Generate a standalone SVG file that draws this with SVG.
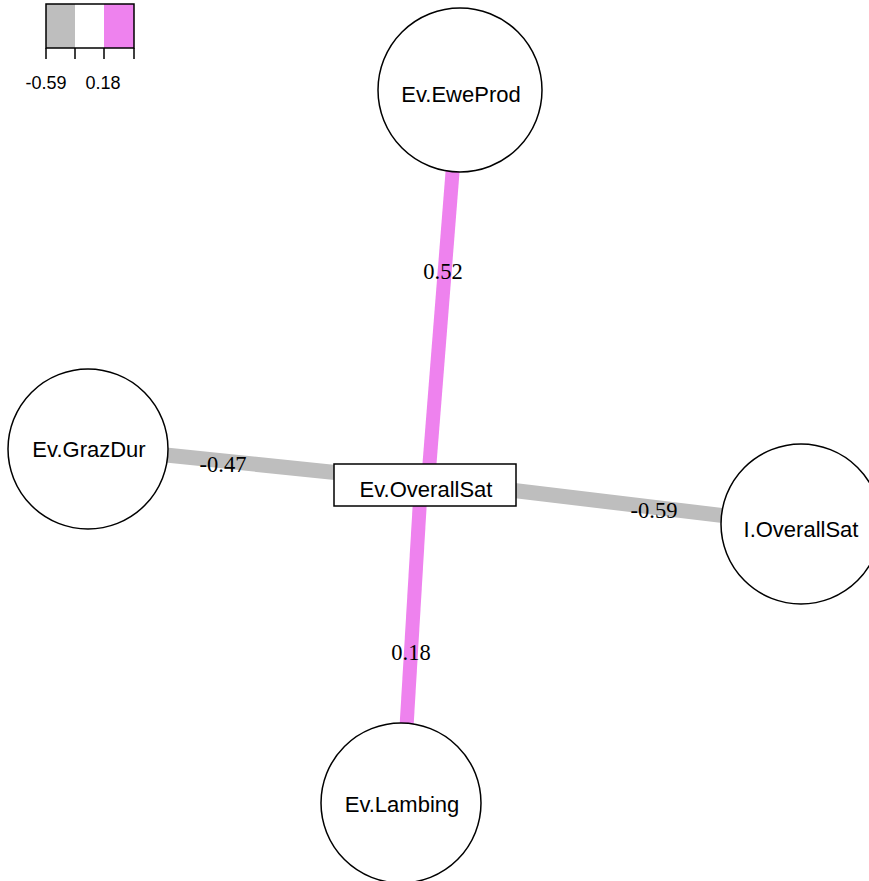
<svg xmlns="http://www.w3.org/2000/svg" width="869" height="881" viewBox="0 0 869 881">
<style>
.node{fill:#fff;stroke:#000;stroke-width:1.5}
.lbl{font-family:"Liberation Sans",Arial,sans-serif;font-size:22px;fill:#000;text-anchor:middle}
.elbl{font-family:"Liberation Serif","Times New Roman",serif;font-size:22.5px;fill:#000;text-anchor:middle}
.pos{stroke:#EE82EE;stroke-width:14;fill:none}
.neg{stroke:#BEBEBE;stroke-width:15;fill:none}
.leg{font-family:"Liberation Sans",Arial,sans-serif;font-size:18px;fill:#000;text-anchor:middle}
.tick{stroke:#000;stroke-width:1.5}
</style>
<rect width="869" height="881" fill="#fff"/>
<g id="legend">
<rect x="46" y="4" width="29" height="44" fill="#BEBEBE"/>
<rect x="75" y="4" width="29" height="44" fill="#fff"/>
<rect x="104" y="4" width="30" height="44" fill="#EE82EE"/>
<rect x="46" y="4" width="88" height="44" fill="none" stroke="#000" stroke-width="1.5"/>
<line class="tick" x1="46" y1="48" x2="46" y2="59"/>
<line class="tick" x1="75" y1="48" x2="75" y2="59"/>
<line class="tick" x1="104" y1="48" x2="104" y2="59"/>
<line class="tick" x1="134" y1="48" x2="134" y2="59"/>
<text class="leg" x="46" y="89">-0.59</text>
<text class="leg" x="103" y="89">0.18</text>
</g>
<g id="edges">
<line class="pos" x1="459" y1="90" x2="429" y2="470"/>
<line class="pos" x1="420" y1="500" x2="402" y2="803"/>
<line class="neg" x1="88" y1="447" x2="340" y2="473"/>
<line class="neg" x1="510" y1="490" x2="801" y2="525"/>
<text class="elbl" x="443" y="279">0.52</text>
<text class="elbl" x="223" y="472">-0.47</text>
<text class="elbl" x="654" y="518">-0.59</text>
<text class="elbl" x="411" y="660">0.18</text>
</g>
<g id="node-EweProd">
<circle class="node" cx="460" cy="90" r="82"/>
<text class="lbl" x="461" y="102">Ev.EweProd</text>
</g>
<g id="node-GrazDur">
<circle class="node" cx="88" cy="449" r="80"/>
<text class="lbl" x="89" y="457">Ev.GrazDur</text>
</g>
<g id="node-IOverallSat">
<circle class="node" cx="801" cy="524" r="80"/>
<text class="lbl" x="801" y="537">I.OverallSat</text>
</g>
<g id="node-Lambing">
<circle class="node" cx="401" cy="803" r="80"/>
<text class="lbl" x="402" y="812">Ev.Lambing</text>
</g>
<g id="node-EvOverallSat">
<rect class="node" x="334" y="464" width="182" height="42"/>
<text class="lbl" x="426" y="497">Ev.OverallSat</text>
</g>
</svg>
